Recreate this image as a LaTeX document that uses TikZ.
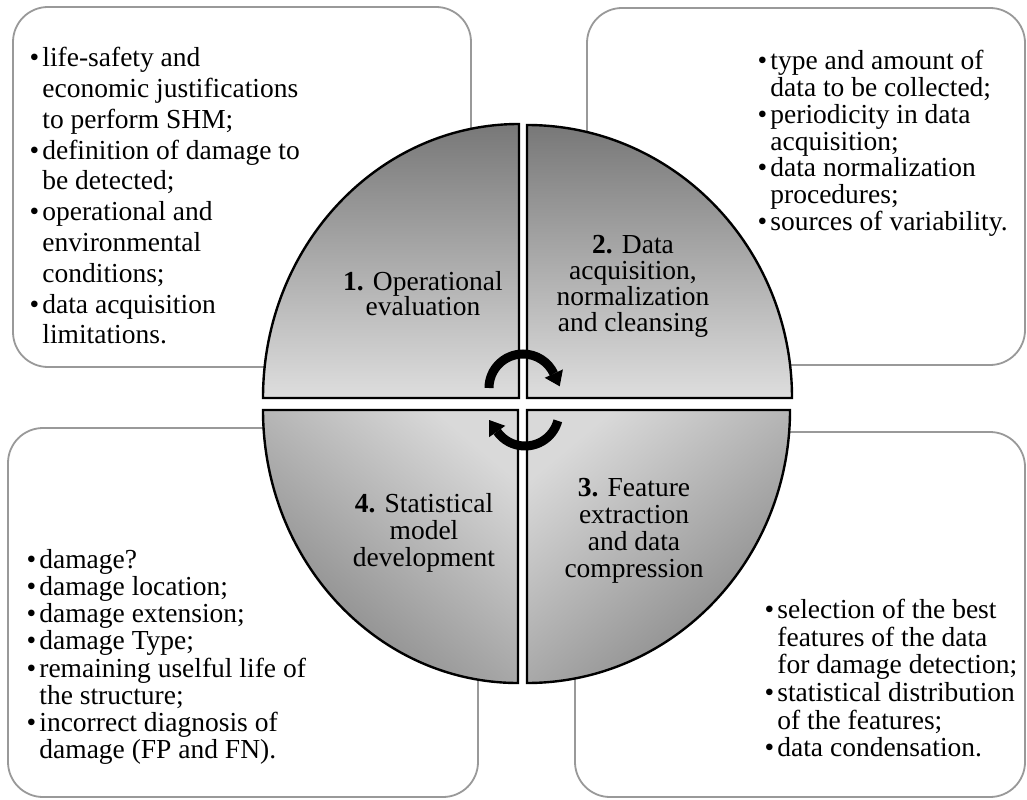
\documentclass[tikz,border=0pt]{standalone}
\usepackage{fontspec}
\setmainfont{Liberation Serif}
\usetikzlibrary{arrows.meta}
\newcommand\bitem{\makebox[8pt][c]{\textbullet}}
\newcommand\bcont{\hspace*{8pt}}
\begin{document}
\begin{tikzpicture}[x=0.5pt,y=0.5pt,
  infobox/.style={draw=black!40, line width=0.9pt, rounded corners=17.5pt, fill=white},
  quad/.style={draw=black, line width=1.2pt},
  btext/.style={anchor=north west, inner sep=0pt, align=left,
    font={\fontsize{13.75}{#1}\selectfont\lineskiplimit=-20pt}},
  qtext/.style={anchor=center, inner sep=0pt, align=center,
    font={\fontsize{13.75}{#1}\selectfont\lineskiplimit=-20pt}},
  cyc/.style={line width=4.5pt, draw=black},
]
\fill[white] (0,0) rectangle (1027,799);
\useasboundingbox (0,0) rectangle (1027,799);

% information boxes
\path[infobox] (13,432) rectangle (471,792);
\path[infobox] (587,434) rectangle (1025,791);
\path[infobox] (8,2) rectangle (478,371);
\path[infobox] (575,2) rectangle (1025,367);

\node[btext=15.4] (t1) at (26,752) {\bitem life-safety and\\
\bcont economic justifications\\
\bcont to perform SHM;\\
\bitem definition of damage to\\
\bcont be detected;\\
\bitem operational and\\
\bcont environmental\\
\bcont conditions;\\
\bitem data acquisition\\
\bcont limitations.};

\node[btext=13.4] (t2) at (754,749) {\bitem type and amount of\\
\bcont data to be collected;\\
\bitem periodicity in data\\
\bcont acquisition;\\
\bitem data normalization\\
\bcont procedures;\\
\bitem sources of variability.};

\node[btext=13.57] (t4) at (23,250) {\bitem damage?\\
\bitem damage location;\\
\bitem damage extension;\\
\bitem damage Type;\\
\bitem remaining uselful life of\\
\bcont the structure;\\
\bitem incorrect diagnosis of\\
\bcont damage (FP and FN).};

\node[btext=13.8] (t3) at (761,200) {\bitem selection of the best\\
\bcont features of the data\\
\bcont for damage detection;\\
\bitem statistical distribution\\
\bcont of the features;\\
\bitem data condensation.};

% quadrants
\path[quad, top color=black!53, bottom color=black!13]
  (519,401) -- (263,401) arc[start angle=180, end angle=90, x radius=256, y radius=274] -- cycle;
\path[quad, top color=black!53, bottom color=black!13]
  (527,401) -- (527,674) arc[start angle=90, end angle=0, x radius=265, y radius=273] -- cycle;
\path[quad, top color=black!15, bottom color=black!48, shading angle=-40]
  (518,389) -- (518,116) arc[start angle=270, end angle=180, x radius=255, y radius=273] -- cycle;
\path[quad, top color=black!15, bottom color=black!48, shading angle=40]
  (527,389) -- (790,389) arc[start angle=0, end angle=-90, x radius=263, y radius=273] -- cycle;

\node[qtext=12.5] (q1) at (423,505) {\textbf{1.} Operational\\evaluation};
\node[qtext=13] (q2) at (633,513) {\textbf{2.} Data\\acquisition,\\normalization\\and cleansing};
\node[qtext=13.5] (q4) at (424,266) {\textbf{4.} Statistical\\model\\development};
\node[qtext=13.5] (q3) at (634,268) {\textbf{3.} Feature\\extraction\\and data\\compression};

% cycle arrows
\draw[cyc] (489,411) arc[start angle=180, end angle=25, radius=34];
\fill (562.9,429.6) -- (544.7,421.2) -- (559.7,412.7) -- cycle;
\draw[cyc] (557.8,378.2) arc[start angle=-15, end angle=-145, radius=34];
\fill (489.0,361.8) -- (505.3,373.2) -- (489.1,379.0) -- cycle;
\end{tikzpicture}
\end{document}
